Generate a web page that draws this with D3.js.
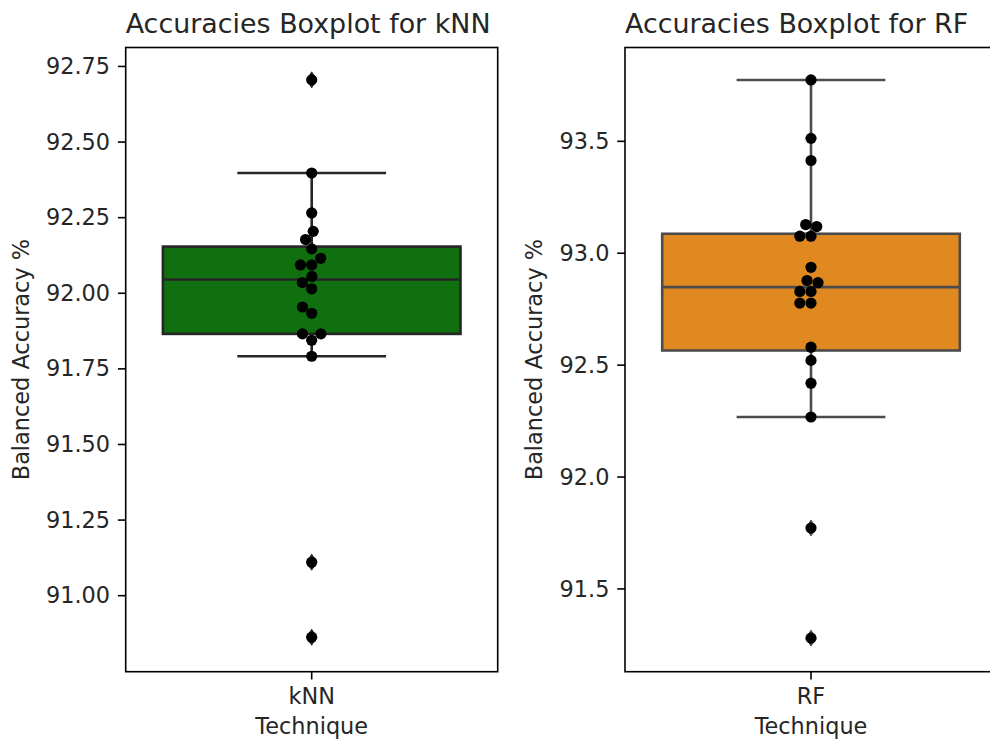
<!DOCTYPE html>
<html>
<head>
<meta charset="utf-8">
<script src="https://cdn.jsdelivr.net/npm/d3@7"></script>
<style>
  body { margin: 0; background: #fff; }
  svg { display: block; font-family: "DejaVu Sans", sans-serif; }
</style>
</head>
<body>
<div id="chart"></div>
<script>
// accuracies (20 folds each)
const techniques = ["kNN", "RF"];
const knnAcc = [92.704, 92.396, 92.264, 92.203, 92.176, 92.145, 92.114, 92.092, 92.092, 92.054,
  92.034, 92.013, 91.953, 91.932, 91.864, 91.864, 91.843, 91.790, 91.109, 90.861];
const rfAcc = [93.772, 93.511, 93.412, 93.126, 93.117, 93.074, 93.074, 92.935, 92.876, 92.866,
  92.827, 92.827, 92.775, 92.775, 92.578, 92.519, 92.417, 92.266, 91.770, 91.278];
const knnTicks = [91.00, 91.25, 91.50, 91.75, 92.00, 92.25, 92.50, 92.75];
const rfTicks = [91.5, 92.0, 92.5, 93.0, 93.5];
const knnLimits = [90.747, 92.811];
const rfLimits = [91.128, 93.917];

const panels = [
  { name: techniques[0], values: knnAcc, ticks: knnTicks, limits: knnLimits, fmt: ".2f",
    fill: "#107010", gray: "#262626", left: 125.7, labelX: -97 },
  { name: techniques[1], values: rfAcc, ticks: rfTicks, limits: rfLimits, fmt: ".1f",
    fill: "#df8920", gray: "#4c4c4c", left: 625, labelX: -83 }
];

const svgWidth = 990, svgHeight = 744;
const plotTop = 47.5, plotBottom = 671.7, plotWidth = 372;
const dotR = 5.6;
const lw = 2.6;

const svg = d3.select("#chart").append("svg")
  .attr("width", svgWidth)
  .attr("height", svgHeight);

svg.append("rect").attr("width", svgWidth).attr("height", svgHeight).attr("fill", "#fff");

// simple beeswarm, placed from low to high like seaborn does
function swarm(values, y, d) {
  const placed = [];
  const pts = values.map(v => ({ v: v, py: y(v) })).sort((a, b) => a.v - b.v);
  pts.forEach(p => {
    const near = placed.filter(q => Math.abs(q.py - p.py) < d);
    const cands = [0];
    near.forEach(q => {
      const dx = Math.sqrt(d * d - (q.py - p.py) ** 2);
      cands.push(q.dx - dx, q.dx + dx);
    });
    const ok = cands.filter(c => near.every(q => Math.hypot(c - q.dx, p.py - q.py) >= d - 1e-6));
    ok.sort((a, b) => Math.abs(a) - Math.abs(b));
    p.dx = ok[0];
    placed.push(p);
  });
  return placed;
}

panels.forEach(p => {
  const g = svg.append("g").attr("transform", "translate(" + p.left + ",0)");

  const x = d3.scaleBand().domain([p.name]).range([0, plotWidth]).paddingInner(0).paddingOuter(0.125);
  const y = d3.scaleLinear().domain(p.limits).range([plotBottom, plotTop]);

  const sorted = p.values.slice().sort(d3.ascending);
  const q1 = d3.quantile(sorted, 0.25);
  const med = d3.quantile(sorted, 0.5);
  const q3 = d3.quantile(sorted, 0.75);
  const iqr = q3 - q1;
  const lo = d3.min(sorted.filter(v => v >= q1 - 1.5 * iqr));
  const hi = d3.max(sorted.filter(v => v <= q3 + 1.5 * iqr));
  const fliers = sorted.filter(v => v < lo || v > hi);

  const bx = x(p.name), bw = x.bandwidth(), cx = bx + bw / 2;

  // whiskers
  g.append("line").attr("x1", cx).attr("x2", cx).attr("y1", y(q3)).attr("y2", y(hi))
    .attr("stroke", p.gray).attr("stroke-width", lw);
  g.append("line").attr("x1", cx).attr("x2", cx).attr("y1", y(q1)).attr("y2", y(lo))
    .attr("stroke", p.gray).attr("stroke-width", lw);
  [lo, hi].forEach(v => {
    g.append("line").attr("x1", cx - bw / 4).attr("x2", cx + bw / 4).attr("y1", y(v)).attr("y2", y(v))
      .attr("stroke", p.gray).attr("stroke-width", lw);
  });

  // box
  g.append("rect")
    .attr("x", bx).attr("width", bw)
    .attr("y", y(q3)).attr("height", y(q1) - y(q3))
    .attr("fill", p.fill)
    .attr("stroke", p.gray).attr("stroke-width", lw);
  g.append("line").attr("x1", bx).attr("x2", bx + bw).attr("y1", y(med)).attr("y2", y(med))
    .attr("stroke", p.gray).attr("stroke-width", lw);

  // outlier diamonds
  g.selectAll(".flier").data(fliers).enter().append("path")
    .attr("class", "flier")
    .attr("transform", d => "translate(" + cx + "," + y(d) + ")")
    .attr("d", "M0,-8L4.8,0L0,8L-4.8,0Z")
    .attr("fill", p.gray).attr("stroke", p.gray).attr("stroke-width", 1);

  // swarm
  const pts = swarm(p.values, y, dotR * 2);
  g.selectAll(".dot").data(pts).enter().append("circle")
    .attr("class", "dot")
    .attr("cx", d => cx + d.dx)
    .attr("cy", d => d.py)
    .attr("r", dotR)
    .attr("fill", "#000");

  // spines
  g.append("rect").attr("x", 0).attr("y", plotTop).attr("width", plotWidth).attr("height", plotBottom - plotTop)
    .attr("fill", "none").attr("stroke", "#000").attr("stroke-width", 1.6);

  // y axis
  const yAxis = g.append("g")
    .call(d3.axisLeft(y).tickValues(p.ticks).tickFormat(d3.format(p.fmt)).tickSize(7.8).tickPadding(7.8));
  yAxis.select(".domain").remove();
  yAxis.selectAll("line").attr("stroke", "#000").attr("stroke-width", 1.6);
  yAxis.selectAll("text").attr("font-size", 22.4).attr("fill", "#262626").attr("dy", "0.34em")
    .attr("font-family", "DejaVu Sans");

  // x axis
  const xAxis = g.append("g")
    .attr("transform", "translate(0," + plotBottom + ")")
    .call(d3.axisBottom(x).tickSize(7.8).tickPadding(7.8));
  xAxis.select(".domain").remove();
  xAxis.selectAll("line").attr("stroke", "#000").attr("stroke-width", 1.6);
  xAxis.selectAll("text").attr("font-size", 22.4).attr("fill", "#262626").attr("dy", "0.76em")
    .attr("font-family", "DejaVu Sans");

  // labels
  g.append("text")
    .attr("x", 0).attr("y", 33)
    .attr("font-size", 26.9).attr("fill", "#262626")
    .text("Accuracies Boxplot for " + p.name);

  g.append("text")
    .attr("x", plotWidth / 2).attr("y", 734)
    .attr("text-anchor", "middle")
    .attr("font-size", 22.4).attr("fill", "#262626")
    .text("Technique");

  g.append("text")
    .attr("transform", "translate(" + p.labelX + "," + (plotTop + plotBottom) / 2 + ") rotate(-90)")
    .attr("text-anchor", "middle")
    .attr("font-size", 22.4).attr("fill", "#262626")
    .text("Balanced Accuracy %");
});
</script>
</body>
</html>
